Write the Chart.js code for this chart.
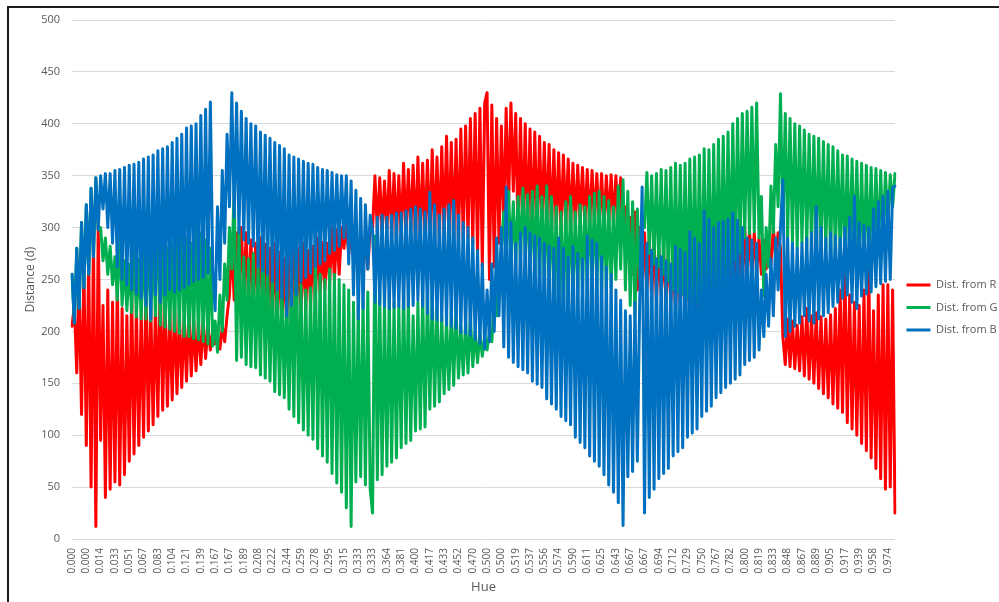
<!DOCTYPE html>
<html>
<head>
<meta charset="utf-8">
<script src="https://cdn.jsdelivr.net/npm/chart.js"></script>
<style>
  html, body { margin: 0; padding: 0; background: #ffffff; width: 999px; height: 602px; overflow: hidden; }
  #frame { position: absolute; left: 7px; top: 6px; width: 1000px; height: 600px;
           border-left: 2px solid #1c1c1c; border-top: 2px solid #1c1c1c; box-sizing: border-box; }
  #c { position: absolute; left: 0; top: 0; }
</style>
</head>
<body>
<div id="frame"></div>
<canvas id="c" width="999" height="602"></canvas>
<script>
// Tick labels shown under the category axis (one every 6 categories)
const tickLabels = [
  '0.000','0.000','0.014','0.033','0.051','0.067','0.083','0.104','0.121','0.139',
  '0.167','0.167','0.189','0.208','0.222','0.244','0.259','0.278','0.295','0.315',
  '0.333','0.333','0.364','0.381','0.400','0.417','0.433','0.452','0.470','0.500',
  '0.500','0.519','0.537','0.556','0.574','0.590','0.611','0.625','0.643','0.667',
  '0.667','0.694','0.712','0.729','0.750','0.767','0.782','0.800','0.819','0.833',
  '0.848','0.867','0.889','0.905','0.917','0.939','0.958','0.974'
];

// Distance from pure red, 6 values per labelled step
const distR = [
  205,225,160,245,120,262,  90,272,50,290,12,305,  95,225,40,240,48,228,
  55,250,52,222,62,215,  75,240,82,225,90,220,  98,245,104,228,110,225,
  118,252,124,230,128,220,  134,228,140,218,146,215,  152,220,157,212,162,210,
  168,212,174,205,182,200,  188,198,183,205,190,215,  235,285,230,295,240,300,
  232,295,226,288,225,285,  222,290,218,284,215,280,  212,285,208,276,205,270,
  207,275,210,282,215,280,  218,285,222,278,225,282,  230,290,236,286,240,285,
  246,300,250,298,255,300,  280,302,275,298,270,295,  250,290,255,295,260,300,
  300,350,296,348,295,345,  295,355,292,352,290,350,  290,362,293,356,295,360,
  286,368,288,362,290,365,  285,375,288,368,290,378,  290,388,287,382,285,385,
  285,395,288,398,290,405,  285,410,275,415,262,420,  430,250,418,262,405,285,
  398,300,415,320,420,335,  410,290,405,295,400,292,  395,290,392,295,388,298,
  382,300,380,295,375,298,  372,295,370,300,366,298,  362,300,360,305,358,302,
  356,300,355,305,352,302,  352,300,350,305,351,303,  350,305,348,300,320,270,
  310,255,315,240,300,238,  295,240,290,232,288,230,  280,235,278,230,275,228,
  265,222,268,225,270,220,  260,215,258,218,255,212,  265,210,268,208,270,215,
  280,220,285,212,290,218,  300,235,298,240,295,245,  300,250,298,255,295,258,
  290,255,288,260,285,265,  300,270,295,280,195,168,  212,166,210,164,206,162,
  214,157,222,154,215,150,  218,145,214,140,212,136,  216,130,222,126,240,122,
  262,112,235,106,228,100,  225,92,240,85,262,78,  220,68,235,58,245,48,
  245,50,240,25
];

// Distance from pure green
const distG = [
  255,208,280,222,305,242,  322,255,338,272,348,298,  300,268,290,255,282,245,
  272,230,295,225,268,220,  265,218,282,214,270,212,  290,212,300,210,285,215,
  322,206,290,204,280,202,  285,200,300,198,312,195,  290,195,285,193,300,192,
  295,190,288,188,280,186,  210,180,235,200,265,230,  300,260,340,172,300,175,
  272,168,270,166,275,165,  265,158,292,155,265,152,  255,142,250,139,245,136,
  240,125,262,118,298,112,  245,105,240,100,242,96,  275,87,255,80,250,74,
  260,63,255,54,250,45,  245,30,240,12,228,55,  225,60,232,52,238,48,
  25,292,57,240,62,230,  70,235,74,228,78,225,  88,245,92,232,95,215,
  104,228,106,235,108,240,  125,238,128,225,132,215,  140,212,144,220,148,225,
  155,205,158,210,160,215,  166,200,170,198,176,195,  182,200,190,230,215,260,
  280,315,265,335,270,325,  265,330,268,338,270,332,  255,335,252,340,250,330,
  245,340,238,330,230,320,  215,315,220,325,225,330,  235,315,238,322,240,320,
  245,330,242,333,240,335,  238,330,240,326,242,320,  250,340,260,346,240,335,
  225,325,214,318,250,308,  300,353,275,350,265,352,  262,356,255,355,248,358,
  240,362,238,360,236,362,  232,366,230,368,228,370,  224,376,228,375,230,380,
  240,385,245,388,250,392,  260,400,268,405,275,410,  290,412,294,416,296,420,
  290,330,234,300,262,340,  295,380,320,429,300,410,  290,405,285,400,280,398,
  285,394,282,390,280,388,  275,386,278,383,280,380,  270,378,272,374,275,370,
  265,369,268,366,270,364,  260,362,262,360,265,358,  270,357,278,355,285,353,
  300,351,320,352
];

// Distance from pure blue
const distB = [
  255,208,280,222,305,242,  322,255,338,272,348,298,  350,318,352,300,352,285,
  355,262,356,250,358,245,  360,240,361,236,363,232,  366,225,368,212,370,235,
  374,228,376,235,378,240,  382,238,386,240,390,242,  396,245,398,248,400,250,
  408,252,414,256,421,260,  220,320,250,355,285,390,  320,430,310,420,295,412,
  288,405,285,400,282,398,  262,392,258,389,255,386,  248,382,240,379,232,376,
  215,370,225,368,235,366,  248,364,252,362,256,361,  262,358,265,356,268,355,
  275,353,278,351,282,350,  290,350,265,345,235,336,  212,328,222,322,260,312,
  298,228,310,226,312,224,  310,222,312,223,314,224,  314,222,316,224,318,225,
  320,230,318,224,315,217,  334,212,322,211,312,210,  318,206,322,205,326,203,
  312,199,305,198,300,196,  290,192,278,188,265,183,  240,190,265,200,290,215,
  300,185,339,175,305,170,  285,166,295,163,300,160,  295,152,292,149,290,146,
  285,135,282,130,280,125,  290,118,280,114,272,110,  282,98,275,93,270,88,
  292,80,288,75,285,70,  272,62,262,52,255,45,  240,35,230,13,220,60,
  215,65,228,75,232,339,  25,285,40,278,48,270,  58,272,63,268,68,265,
  80,282,84,279,88,276,  98,296,102,290,106,285,  118,316,123,308,128,300,
  136,305,141,306,146,308,  150,314,154,307,158,300,  168,290,172,288,175,285,
  182,240,195,255,205,270,  215,290,240,300,346,195,  290,200,285,205,280,208,
  285,215,290,210,295,208,  320,212,300,215,290,218,  295,224,292,228,290,232,
  300,235,310,228,330,222,  305,234,302,236,300,238,  318,243,325,246,330,248,
  335,250,338,340
];

const seriesNames = ['Dist. from R', 'Dist. from G', 'Dist. from B'];
const seriesColors = ['#FF0000', '#00B050', '#0070C0'];
const yTicks = { min: 0, max: 500, step: 50 };

// one category per data point; every 6th carries a tick label
const categoriesPerTick = 6;
const categories = distR.map((_, i) =>
  (i % categoriesPerTick === 0 && i / categoriesPerTick < tickLabels.length) ? tickLabels[i / categoriesPerTick] : '');

const axisGray = '#595959';
const fontFam = "'Open Sans', 'Noto Sans', sans-serif";

new Chart(document.getElementById('c').getContext('2d'), {
  type: 'line',
  data: {
    labels: categories,
    datasets: [
      { label: seriesNames[0], data: distR, borderColor: seriesColors[0], backgroundColor: seriesColors[0], order: 3 },
      { label: seriesNames[1], data: distG, borderColor: seriesColors[1], backgroundColor: seriesColors[1], order: 2 },
      { label: seriesNames[2], data: distB, borderColor: seriesColors[2], backgroundColor: seriesColors[2], order: 1 }
    ]
  },
  options: {
    responsive: false,
    animation: false,
    devicePixelRatio: 1,
    layout: { padding: { left: 10, top: 20, right: 0, bottom: 0 } },
    elements: {
      line: { borderWidth: 3, tension: 0, borderJoinStyle: 'round', borderCapStyle: 'round', fill: false },
      point: { radius: 0, hoverRadius: 0, hitRadius: 0 }
    },
    plugins: {
      tooltip: { enabled: false },
      legend: {
        position: 'right',
        fullSize: false,
        maxWidth: 104,
        title: { display: true, text: '', font: { size: 10 }, padding: { top: 0, bottom: 44 } },
        labels: {
          boxWidth: 24,
          boxHeight: 3,
          padding: 11.5,
          color: axisGray,
          font: { family: fontFam, size: 11 },
          sort: (a, b) => a.datasetIndex - b.datasetIndex,
          generateLabels: (chart) =>
            Chart.defaults.plugins.legend.labels.generateLabels(chart).map(it => Object.assign(it, { lineWidth: 0 }))
        }
      }
    },
    scales: {
      x: {
        type: 'category',
        offset: false,
        grid: { display: false, drawTicks: false },
        border: { display: false },
        ticks: {
          autoSkip: false, minRotation: 90, maxRotation: 90, padding: 9,
          color: axisGray, font: { family: fontFam, size: 10 }
        },
        title: { display: true, text: 'Hue', color: axisGray, font: { family: fontFam, size: 13 }, padding: { top: 0, bottom: 7 } },
        afterFit: (s) => { s.height = 63; }
      },
      y: {
        min: yTicks.min, max: yTicks.max,
        ticks: { stepSize: yTicks.step, padding: 12, color: axisGray, font: { family: fontFam, size: 11 } },
        grid: { color: '#d9d9d9', lineWidth: 1, drawTicks: false },
        border: { display: false },
        title: { display: true, text: 'Distance (d)', color: axisGray, font: { family: fontFam, size: 12 }, padding: { top: 13, bottom: 0 } },
        afterFit: (s) => { s.width = 62; }
      }
    }
  }
});
</script>
</body>
</html>
